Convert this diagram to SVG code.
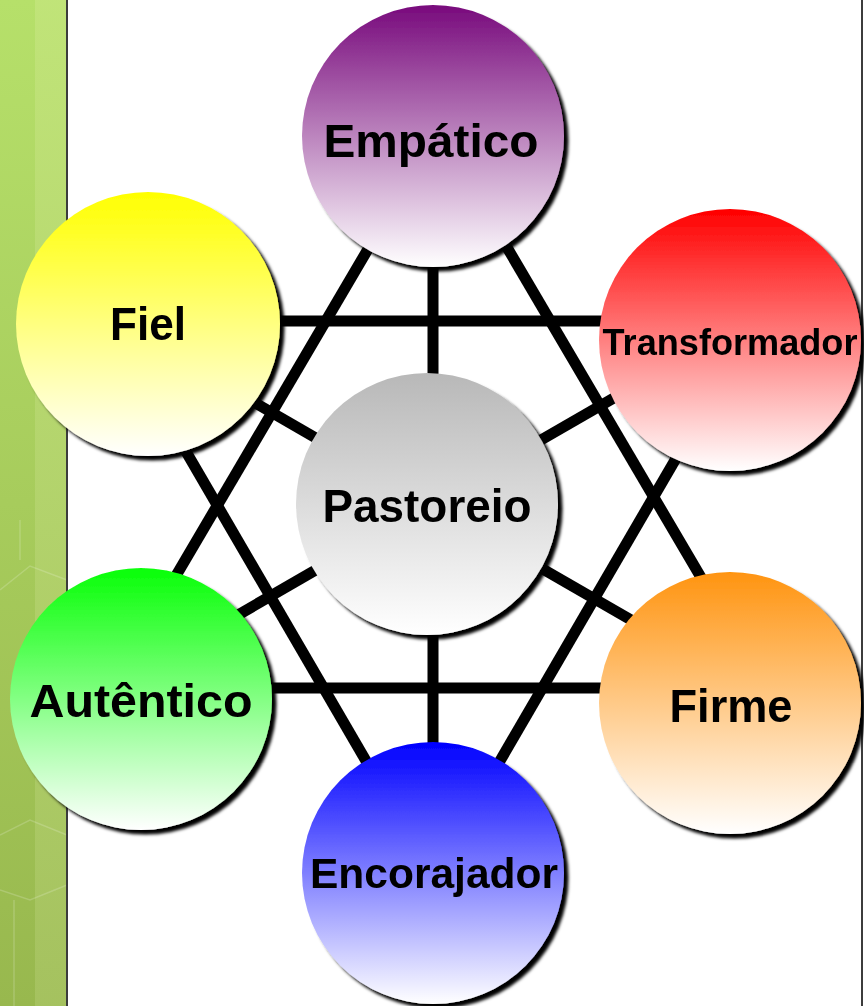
<svg xmlns="http://www.w3.org/2000/svg" width="864" height="1006" viewBox="0 0 864 1006">
<defs>
<style>
.lnk{stroke:#000;stroke-width:11;fill:none;stroke-linecap:butt}
.nd{filter:url(#sh)}
.lbl{font-family:"Liberation Sans",Arial,sans-serif;font-weight:bold;fill:#000;text-anchor:middle}
.deco{stroke:#fff;stroke-opacity:0.18;stroke-width:1.5;fill:none}
</style>
<filter id="sh" x="-10%" y="-10%" width="125%" height="125%">
<feDropShadow dx="4.5" dy="4.5" stdDeviation="1.6" flood-color="#000" flood-opacity="1"/>
</filter>
<linearGradient id="gBar" x1="0" y1="0" x2="0" y2="1">
<stop offset="0" stop-color="#b6e06a"/>
<stop offset="1" stop-color="#98b84e"/>
</linearGradient>
<linearGradient id="gBar2" x1="0" y1="0" x2="0" y2="1">
<stop offset="0" stop-color="#c3e57c"/>
<stop offset="1" stop-color="#a8c463"/>
</linearGradient>
<linearGradient id="gPurple" x1="0" y1="0" x2="0" y2="1">
<stop offset="0" stop-color="#780a7c"/>
<stop offset="1" stop-color="#ffffff"/>
</linearGradient>
<linearGradient id="gYellow" x1="0" y1="0" x2="0" y2="1">
<stop offset="0" stop-color="#ffff00"/>
<stop offset="1" stop-color="#ffffff"/>
</linearGradient>
<linearGradient id="gRed" x1="0" y1="0" x2="0" y2="1">
<stop offset="0" stop-color="#ff0000"/>
<stop offset="1" stop-color="#ffffff"/>
</linearGradient>
<linearGradient id="gOrange" x1="0" y1="0" x2="0" y2="1">
<stop offset="0" stop-color="#ff9410"/>
<stop offset="1" stop-color="#ffffff"/>
</linearGradient>
<linearGradient id="gGreen" x1="0" y1="0" x2="0" y2="1">
<stop offset="0" stop-color="#08ff08"/>
<stop offset="1" stop-color="#ffffff"/>
</linearGradient>
<linearGradient id="gBlue" x1="0" y1="0" x2="0" y2="1">
<stop offset="0" stop-color="#0000ff"/>
<stop offset="1" stop-color="#ffffff"/>
</linearGradient>
<linearGradient id="gGray" x1="0" y1="0" x2="0" y2="1">
<stop offset="0" stop-color="#b8b8b8"/>
<stop offset="1" stop-color="#ffffff"/>
</linearGradient>
</defs>

<rect x="0" y="0" width="864" height="1006" fill="#ffffff"/>

<g id="background">
<rect x="0" y="0" width="67" height="1006" fill="url(#gBar)"/>
<rect x="35" y="0" width="32" height="1006" fill="url(#gBar2)" opacity="0.8"/>
<polyline class="deco" points="0,590 30,566 67,580"/>
<polyline class="deco" points="20,520 20,560"/>
<polyline class="deco" points="0,835 30,820 67,835"/>
<polyline class="deco" points="0,890 30,900 67,885"/>
<polyline class="deco" points="14,900 14,1006"/>
<rect x="66" y="0" width="2" height="1006" fill="#3c3c3c"/>
<rect x="861" y="0" width="2" height="1006" fill="#3c3c3c"/>
</g>

<g id="connectors">
<line class="lnk" x1="100" y1="321" x2="766" y2="321"/>
<line class="lnk" x1="100" y1="688" x2="766" y2="688"/>
<line class="lnk" x1="438" y1="130" x2="110" y2="688"/>
<line class="lnk" x1="438" y1="130" x2="766" y2="688"/>
<line class="lnk" x1="433" y1="876" x2="110" y2="321"/>
<line class="lnk" x1="433" y1="876" x2="756" y2="321"/>
<line class="lnk" x1="433" y1="137" x2="433" y2="504"/>
<line class="lnk" x1="433" y1="504" x2="433" y2="873"/>
<line class="lnk" x1="430" y1="504" x2="148" y2="341"/>
<line class="lnk" x1="430" y1="504" x2="730" y2="331"/>
<line class="lnk" x1="430" y1="504" x2="141" y2="671"/>
<line class="lnk" x1="430" y1="504" x2="730" y2="677"/>
</g>

<g id="node-empatico" class="nd">
<circle cx="433" cy="136" r="131" fill="url(#gPurple)"/>
<text class="lbl" x="431" y="157" font-size="47" textLength="215" lengthAdjust="spacingAndGlyphs">Empático</text>
</g>
<g id="node-fiel" class="nd">
<circle cx="148" cy="324" r="132" fill="url(#gYellow)"/>
<text class="lbl" x="148" y="340" font-size="47" textLength="76" lengthAdjust="spacingAndGlyphs">Fiel</text>
</g>
<g id="node-transformador" class="nd">
<circle cx="730" cy="340" r="131" fill="url(#gRed)"/>
<text class="lbl" x="730" y="355" font-size="37" textLength="255" lengthAdjust="spacingAndGlyphs">Transformador</text>
</g>
<g id="node-pastoreio" class="nd">
<circle cx="427" cy="504" r="131" fill="url(#gGray)"/>
<text class="lbl" x="427" y="522" font-size="47" textLength="209" lengthAdjust="spacingAndGlyphs">Pastoreio</text>
</g>
<g id="node-autentico" class="nd">
<circle cx="141" cy="699" r="131" fill="url(#gGreen)"/>
<text class="lbl" x="141" y="717" font-size="47" textLength="223" lengthAdjust="spacingAndGlyphs">Autêntico</text>
</g>
<g id="node-firme" class="nd">
<circle cx="730" cy="703" r="131" fill="url(#gOrange)"/>
<text class="lbl" x="731" y="722" font-size="47" textLength="123" lengthAdjust="spacingAndGlyphs">Firme</text>
</g>
<g id="node-encorajador" class="nd">
<circle cx="433" cy="873" r="131" fill="url(#gBlue)"/>
<text class="lbl" x="434" y="888" font-size="42" textLength="248" lengthAdjust="spacingAndGlyphs">Encorajador</text>
</g>
</svg>
